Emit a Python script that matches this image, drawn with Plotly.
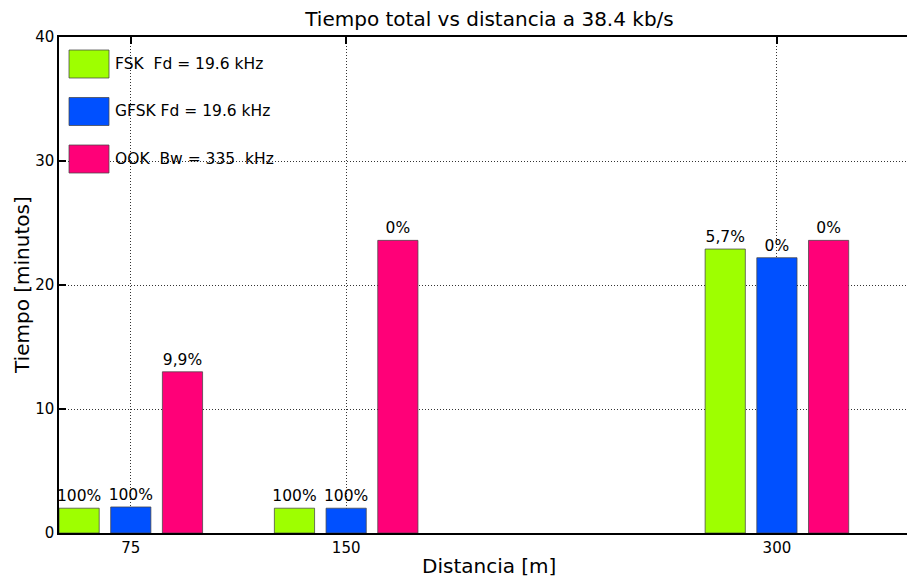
import plotly.graph_objects as go

# Distances (m) and total time (minutes) per modulation
distancias = [75, 150, 300]
fsk_min = [2.0, 2.0, 22.9]
gfsk_min = [2.1, 2.0, 22.2]
ook_min = [13.0, 23.6, 23.6]

# Packet-loss labels shown above each bar
fsk_lbl = ["100%", "100%", "5,7%"]
gfsk_lbl = ["100%", "100%", "0%"]
ook_lbl = ["9,9%", "0%", "0%"]

series_names = ["FSK\u00a0 Fd = 19.6 kHz", "GFSK Fd = 19.6 kHz", "OOK\u00a0 Bw = 335\u00a0 kHz"]
series_colors = ["#9eff00", "#0050ff", "#ff0078"]

FONT = "DejaVu Sans, Verdana, sans-serif"
W, H = 908, 577
L, R, T, B = 59, 1, 37, 44
pw = W - L - R
ph = H - T - B
GRID_DASH = "1px,2px"

fig = go.Figure()
offsets = [-25, -7, 11]
for name, vals, lbls, col, off in zip(series_names, [fsk_min, gfsk_min, ook_min],
                                      [fsk_lbl, gfsk_lbl, ook_lbl], series_colors, offsets):
    fig.add_trace(go.Bar(
        x=distancias, y=vals, name=name, width=14, offset=off,
        marker=dict(color=col, line=dict(color="rgba(70,70,70,0.75)", width=1)),
        text=lbls, textposition="outside", cliponaxis=False, constraintext="none",
        textfont=dict(size=15.5, color="black", family=FONT),
        showlegend=False,
    ))

# Dummy trace on the top axis so its ticks are drawn
fig.add_trace(go.Scatter(x=[distancias[0]], y=[0], xaxis="x2", mode="markers",
                         marker=dict(opacity=0), showlegend=False, hoverinfo="skip"))

fig.update_layout(
    width=W, height=H,
    margin=dict(l=L, r=R, t=T, b=B),
    paper_bgcolor="white", plot_bgcolor="white",
    font=dict(family=FONT, color="black"),
    barmode="overlay",
    title=dict(text="Tiempo total vs distancia a 38.4 kb/s", x=489.5 / W, xanchor="center",
               y=1 - 19 / H, yanchor="middle", font=dict(size=20, family=FONT)),
    xaxis=dict(range=[50, 345.3], tickvals=distancias, ticktext=[str(d) for d in distancias],
               ticks="", showline=True, linecolor="black", linewidth=1.5,
               showgrid=True, gridcolor="#333", griddash=GRID_DASH, gridwidth=1,
               zeroline=False, tickfont=dict(size=15, family=FONT)),
    xaxis2=dict(range=[50, 345.3], overlaying="x", side="top", tickvals=distancias,
                showticklabels=False, ticks="inside", ticklen=7, tickcolor="black", tickwidth=1.5,
                showline=True, linecolor="black", linewidth=1.5, showgrid=False, zeroline=False),
    yaxis=dict(range=[0, 40], tickvals=[0, 10, 20, 30, 40], ticks="inside", ticklen=7,
               tickcolor="black", tickwidth=1.5, showline=True, linecolor="black", linewidth=1.5,
               showgrid=True, gridcolor="#333", griddash=GRID_DASH, gridwidth=1,
               zeroline=False, tickfont=dict(size=15, family=FONT)),
)

# Axis titles
fig.add_annotation(text="Distancia [m]", xref="paper", yref="paper",
                   x=(489 - L) / pw, y=-(566 - (H - B)) / ph, xanchor="center", yanchor="middle",
                   showarrow=False, font=dict(size=20, family=FONT))
fig.add_annotation(text="Tiempo [minutos]", xref="paper", yref="paper",
                   x=(22 - L) / pw, y=((H - B) - 285) / ph, xanchor="center", yanchor="middle",
                   textangle=-90, showarrow=False, font=dict(size=20, family=FONT))

# Legend drawn as boxes with labels in the upper-left corner
for i, (name, col) in enumerate(zip(series_names, series_colors)):
    top = 50 + 47.5 * i
    bot = top + 28
    fig.add_shape(type="rect", xref="paper", yref="paper",
                  x0=(69 - L) / pw, x1=(109 - L) / pw,
                  y0=((H - B) - bot) / ph, y1=((H - B) - top) / ph,
                  fillcolor=col, line=dict(color="rgba(70,70,70,0.75)", width=1))
    fig.add_annotation(text=name, xref="paper", yref="paper",
                       x=(113 - L) / pw, y=((H - B) - (top + bot) / 2) / ph,
                       xanchor="left", yanchor="middle", showarrow=False,
                       font=dict(size=15.5, family=FONT))

fig.write_html("out.html")
